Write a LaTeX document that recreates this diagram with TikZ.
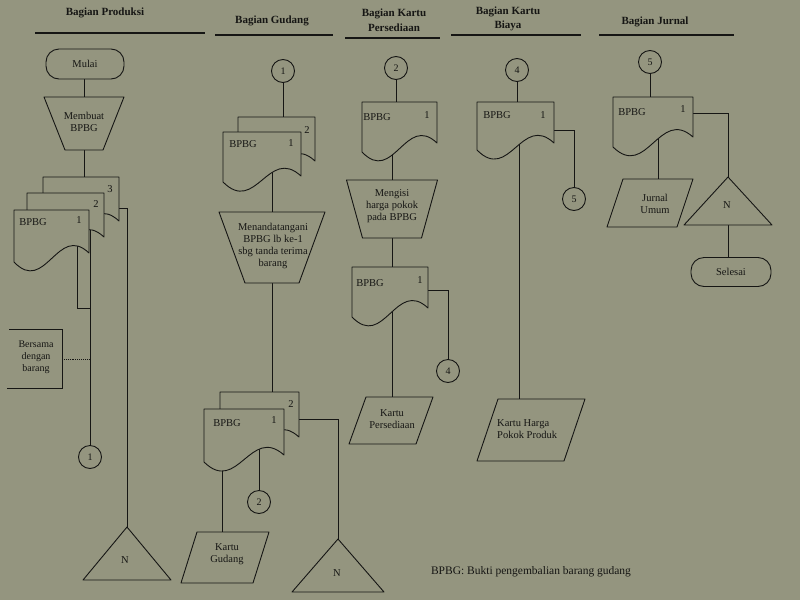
\documentclass[tikz,border=0pt]{standalone}
\usepackage{fontspec}
\setmainfont{Liberation Serif}
\usetikzlibrary{calc}
\definecolor{paper}{RGB}{148,149,127}
\definecolor{ink}{RGB}{22,22,20}
\pgfdeclarelayer{paperlayer}
\pgfdeclarelayer{connlayer}
\pgfsetlayers{paperlayer,connlayer,main}
\tikzset{
  shp/.style={draw=ink, fill=paper, line width=0.9pt, line join=round},
  conn/.style={draw=ink, line width=0.9pt},
  lbl/.style={text=ink, font=\fontsize{10.5}{12}\selectfont, inner sep=0pt, align=center},
  hdr/.style={text=ink, font=\fontsize{11}{14.5}\selectfont\bfseries, inner sep=0pt, align=center},
  conncirc/.style={circle, draw=ink, fill=paper, line width=0.9pt, minimum size=23pt, inner sep=0pt, text=ink, font=\fontsize{10}{12}\selectfont},
  term/.style={rectangle, rounded corners=13pt, draw=ink, fill=paper, line width=0.9pt, minimum width=78pt, minimum height=30pt, inner sep=0pt, text=ink, font=\fontsize{10.5}{12}\selectfont},
  hline/.style={draw=ink, line width=1.1pt},
}
% document shape: name, x1, top, x2, yright, yleft
\newcommand\docsh[6]{%
  \path[shp] (#2,#3) coordinate (#1-tl) -- (#4,#3) coordinate (#1-tr) -- (#4,#5)
    .. controls ({#2+0.58*(#4-#2)},{#5-30}) and ({#2+0.42*(#4-#2)},{#6+33}) .. (#2,#6) -- cycle;
  \coordinate (#1-c) at ({(#2+#4)/2},{(#3+#5)/2});}
% trapezium: name, cx, top, topwidth, bottom, bottomwidth
\newcommand\trapsh[6]{%
  \path[shp] ({#2-#4/2},#3) -- ({#2+#4/2},#3) -- ({#2+#6/2},#5) -- ({#2-#6/2},#5) -- cycle;
  \coordinate (#1-t) at (#2,#3); \coordinate (#1-b) at (#2,#5);}
% parallelogram: name, xtl, xtr, top, slant, bottom
\newcommand\parash[6]{%
  \path[shp] (#2,#4) -- (#3,#4) -- ({#3-#5},#6) -- ({#2-#5},#6) -- cycle;
  \coordinate (#1-t) at ({(#2+#3)/2},#4);}
% triangle: name, apexx, apexy, halfbase, basey
\newcommand\trish[5]{%
  \path[shp] (#2,#3) coordinate (#1-apex) -- ({#2+#4},#5) -- ({#2-#4},#5) -- cycle;
  \coordinate (#1-b) at (#2,#5);}
\begin{document}
\begin{tikzpicture}[x=1pt,y=-1pt]
\useasboundingbox (0,0) rectangle (800,600);
\begin{pgfonlayer}{paperlayer}
  \fill[paper] (0,0) rectangle (800,600);
\end{pgfonlayer}

% ---------- headers ----------
\node[hdr] (h1) at (105,13) {Bagian Produksi};
\draw[hline] (35,33) -- (205,33);
\node[hdr] (h2) at (272,21) {Bagian Gudang};
\draw[hline] (215,35) -- (333,35);
\node[hdr] (h3) at (394,20) {Bagian Kartu\\Persediaan};
\draw[hline] (345,38) -- (440,38);
\node[hdr] (h4) at (508,19) {Bagian Kartu\\Biaya};
\draw[hline] (451,35) -- (581,35);
\node[hdr] (h5) at (655,22) {Bagian Jurnal};
\draw[hline] (599,35) -- (734,35);

% ---------- Bagian Produksi ----------
\node[term] (mulai) at (85,64) {Mulai};
\trapsh{tmb}{84}{97}{80}{150}{38}
\node[lbl] (tmbt) at (84,122) {Membuat\\BPBG};
\docsh{pd3}{43}{177}{119}{221}{230}
\docsh{pd2}{27}{193}{104}{237}{246}
\docsh{pd1}{14}{210}{89}{253}{262}
\node[lbl] (pd3n) at (110,189) {3};
\node[lbl] (pd2n) at (96,204) {2};
\node[lbl] (pd1t) at (33,222) {BPBG};
\node[lbl] (pd1n) at (79,220) {1};
\draw[conn] (9,329) -- (62,329) -- (62,388) -- (7,388);
\node[lbl, font=\fontsize{10}{12}\selectfont] (ann) at (36,357) {Bersama\\dengan\\barang};
\node[conncirc] (o1a) at (90,457) {1};
\trish{np}{127}{527}{44}{580}
\node[lbl] (npn) at (125,560) {N};
\coordinate (pd1-tap) at (77,240);
\coordinate (j1) at (90,308);
\coordinate (pd2-tap) at (90,225);
\coordinate (pd3-r) at (119,208);
\coordinate (ann-r) at (62,359);

% ---------- Bagian Gudang ----------
\node[conncirc] (o1b) at (283,71) {1};
\docsh{gd2}{238}{117}{315}{161}{170}
\docsh{gd1}{223}{132}{301}{176}{182}
\node[lbl] (gd2n) at (307,130) {2};
\node[lbl] (gd1t) at (243,144) {BPBG};
\node[lbl] (gd1n) at (291,143) {1};
\trapsh{tmt}{272}{212}{106}{283}{54}
\node[lbl] (tmtt) at (273,246) {Menandatangani\\BPBG lb ke-1\\sbg tanda terima\\barang};
\docsh{gb2}{220}{392}{299}{437}{446}
\docsh{gb1}{204}{409}{284}{455}{462}
\node[lbl] (gb2n) at (291,404) {2};
\node[lbl] (gb1t) at (227,423) {BPBG};
\node[lbl] (gb1n) at (274,420) {1};
\node[conncirc] (o2a) at (259,502) {2};
\trish{ng}{338}{539}{46}{592}
\node[lbl] (ngn) at (337,573) {N};
\parash{kg}{197}{269}{532}{16}{583}
\node[lbl] (kgt) at (227,554) {Kartu\\Gudang};
\coordinate (gd1-tap) at (272,160);
\coordinate (gb1-tapa) at (222,440);
\coordinate (gb1-tapb) at (259,440);
\coordinate (gb2-r) at (299,419);

% ---------- Bagian Kartu Persediaan ----------
\node[conncirc] (o2b) at (396,68) {2};
\docsh{pa}{362}{102}{437}{143}{152}
\node[lbl] (pat) at (377,117) {BPBG};
\node[lbl] (pan) at (427,115) {1};
\trapsh{tmg}{392}{180}{91}{238}{59}
\node[lbl] (tmgt) at (392,206) {Mengisi\\harga pokok\\pada BPBG};
\docsh{pb}{352}{267}{428}{308}{317}
\node[lbl] (pbt) at (370,283) {BPBG};
\node[lbl] (pbn) at (420,280) {1};
\node[conncirc] (o4a) at (448,371) {4};
\parash{kp}{366}{433}{397}{17}{444}
\node[lbl] (kpt) at (392,419) {Kartu\\Persediaan};
\coordinate (pa-tap) at (392,130);
\coordinate (pb-tap) at (392,300);
\coordinate (pb-r) at (428,290);

% ---------- Bagian Kartu Biaya ----------
\node[conncirc] (o4b) at (517,70) {4};
\docsh{ba}{477}{102}{554}{143}{150}
\node[lbl] (bat) at (497,115) {BPBG};
\node[lbl] (ban) at (543,115) {1};
\node[conncirc] (o5a) at (574,199) {5};
\parash{kh}{498}{585}{399}{21}{461}
\node[lbl, align=left, anchor=west] (kht) at (497,429) {Kartu Harga\\Pokok Produk};
\coordinate (ba-tap) at (519,130);
\coordinate (ba-r) at (554,130);

% ---------- Bagian Jurnal ----------
\node[conncirc] (o5b) at (650,62) {5};
\docsh{ja}{613}{97}{693}{137}{147}
\node[lbl] (jat) at (632,112) {BPBG};
\node[lbl] (jan) at (683,109) {1};
\trish{nj}{728}{177}{44}{225}
\node[lbl] (njn) at (727,205) {N};
\node[term, minimum width=80pt, minimum height=29pt] (selesai) at (731,272) {Selesai};
\parash{ju}{623}{693}{179}{16}{227}
\node[lbl] (jut) at (655,204) {Jurnal\\Umum};
\coordinate (ja-tap) at (658,125);
\coordinate (ja-r) at (693,113);

% ---------- footer ----------
\node[lbl, font=\fontsize{11.5}{13}\selectfont] (foot) at (531,572) {BPBG: Bukti pengembalian barang gudang};

% ---------- connectors (behind shapes) ----------
\begin{pgfonlayer}{connlayer}
  \draw[conn] (mulai.south -| tmb-t) -- (tmb-t);
  \draw[conn] (tmb-b) -- (tmb-b |- pd3-tl);
  \draw[conn] (pd1-tap) -- (pd1-tap |- j1) -- (j1);
  \draw[conn] (pd2-tap) -- (o1a.north);
  \draw[conn] (pd3-r) -- (pd3-r -| np-apex) -- (np-apex);
  \draw[conn, densely dotted, line width=0.6pt] (ann-r) -- (ann-r -| j1);

  \draw[conn] (o1b.south) -- (o1b.south |- gd2-tl);
  \draw[conn] (gd1-tap) -- (tmt-t);
  \draw[conn] (tmt-b) -- (tmt-b |- gb2-tl);
  \draw[conn] (gb1-tapa) -- (gb1-tapa |- kg-t);
  \draw[conn] (gb1-tapb) -- (o2a.north);
  \draw[conn] (gb2-r) -- (gb2-r -| ng-apex) -- (ng-apex);

  \draw[conn] (o2b.south) -- (o2b.south |- pa-tl);
  \draw[conn] (pa-tap) -- (pa-tap |- tmg-t);
  \draw[conn] (tmg-b) -- (tmg-b |- pb-tl);
  \draw[conn] (pb-r) -- (pb-r -| o4a.north) -- (o4a.north);
  \draw[conn] (pb-tap) -- (pb-tap |- kp-t);

  \draw[conn] (o4b.south) -- (o4b.south |- ba-tl);
  \draw[conn] (ba-r) -- (ba-r -| o5a.north) -- (o5a.north);
  \draw[conn] (ba-tap) -- (ba-tap |- kh-t);

  \draw[conn] (o5b.south) -- (o5b.south |- ja-tl);
  \draw[conn] (ja-r) -- (ja-r -| nj-apex) -- (nj-apex);
  \draw[conn] (nj-b) -- (nj-b |- selesai.north);
  \draw[conn] (ja-tap) -- (ja-tap |- ju-t);
\end{pgfonlayer}
\end{tikzpicture}
\end{document}
